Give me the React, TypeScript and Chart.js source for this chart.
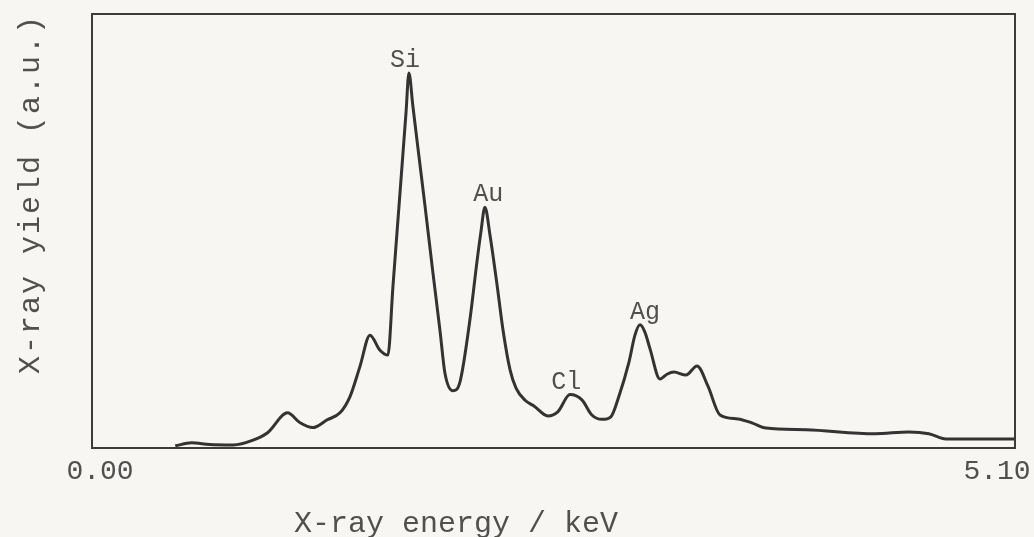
import React, { useEffect, useRef } from "react";
import { Chart, registerables } from "chart.js";

Chart.register(...registerables);

// X-ray energy (keV)
const energy = [
  0.46, 0.55, 0.65, 0.78, 0.89, 0.97, 1.08, 1.15, 1.22, 1.3, 1.37, 1.425, 1.48,
  1.536, 1.59, 1.635, 1.663, 1.685, 1.713, 1.735, 1.751, 1.773, 1.801, 1.84,
  1.884, 1.923, 1.950, 1.994, 2.033, 2.088, 2.127, 2.149, 2.171, 2.199, 2.238,
  2.271, 2.31, 2.343, 2.393, 2.442, 2.519, 2.575, 2.641, 2.707, 2.762, 2.818,
  2.867, 2.912, 2.967, 3.0, 3.028, 3.055, 3.083, 3.138, 3.177, 3.215, 3.282,
  3.343, 3.403, 3.47, 3.569, 3.646, 3.724, 3.945, 4.326, 4.514, 4.624, 4.718, 5.1,
];
// X-ray yield (a.u.)
const yieldValues = [
  0.5, 1.2, 0.8, 0.7, 1.8, 3.5, 8.1, 5.8, 4.7, 6.5, 8.1, 11.8, 18.7, 26.0, 22.6,
  21.4, 37.3, 49.5, 65.0, 77.2, 86.4, 78.8, 69.1, 55.8, 40.3, 27.0, 17.3, 13.2,
  15.2, 29.5, 42.9, 49.8, 55.5, 49.1, 37.6, 27.2, 18.0, 13.8, 11.0, 9.7, 7.4,
  8.4, 12.3, 11.1, 7.6, 6.6, 7.2, 12.0, 19.8, 26.0, 28.4, 26.7, 22.9, 15.9,
  17.0, 17.5, 16.8, 18.9, 14.3, 7.6, 6.7, 5.8, 4.6, 4.2, 3.3, 3.7, 3.3, 2.1, 2.1,
];
// peak labels
const peakNames = ["Si", "Au", "Cl", "Ag"];
const peakEnergy = [1.73, 2.19, 2.62, 3.055];
const peakYield = [86.4, 55.5, 12.3, 28.4];
// axis tick labels
const xTickValues = [0, 5.1];
const xTitle = "X-ray energy / keV";
const yTitle = "X-ray yield (a.u.)";

const INK = "#505050";
const FONT = "'Liberation Mono', 'Courier New', monospace";

const overlay = {
  id: "overlay",
  beforeDraw(chart: any) {
    const { ctx, width, height } = chart;
    ctx.save();
    ctx.fillStyle = "#f7f6f3";
    ctx.fillRect(0, 0, width, height);
    ctx.restore();
  },
  afterDraw(chart: any) {
    const { ctx, chartArea, scales } = chart;
    const { left, right, top, bottom } = chartArea;
    const xs = scales.x;
    const ys = scales.y;
    ctx.save();
    ctx.strokeStyle = "#3c3c3c";
    ctx.lineWidth = 2;
    ctx.strokeRect(left, top, right - left, bottom - top);

    ctx.fillStyle = INK;
    ctx.textBaseline = "alphabetic";
    // tick labels
    ctx.font = `28px ${FONT}`;
    xTickValues.forEach((v, i) => {
      const px = xs.getPixelForValue(v);
      ctx.textAlign = "center";
      const shift = i === 0 ? 8 : -18;
      ctx.fillText(v.toFixed(2), px + shift, bottom + 31);
    });
    // x title
    ctx.font = `30px ${FONT}`;
    ctx.textAlign = "center";
    ctx.fillText(xTitle, left + 364, bottom + 84);
    // y title
    ctx.save();
    ctx.translate(left - 53, top + 180);
    ctx.rotate(-Math.PI / 2);
    ctx.textAlign = "center";
    (ctx as any).letterSpacing = "2px";
    ctx.fillText(yTitle, 0, 0);
    ctx.restore();
    // peak labels
    ctx.font = `25px ${FONT}`;
    ctx.textAlign = "center";
    peakNames.forEach((name, i) => {
      const px = xs.getPixelForValue(peakEnergy[i]);
      const py = ys.getPixelForValue(peakYield[i]);
      ctx.fillText(name, px, py - 6);
    });
    ctx.restore();
  },
};

export default function App() {
  const ref = useRef<HTMLCanvasElement | null>(null);
  useEffect(() => {
    if (!ref.current) return;
    const chart = new Chart(ref.current, {
      type: "line",
      data: {
        datasets: [
          {
            data: energy.map((e, i) => ({ x: e, y: yieldValues[i] })),
            borderColor: "#333333",
            borderWidth: 3,
            pointRadius: 0,
            cubicInterpolationMode: "monotone",
            fill: false,
          },
        ],
      },
      options: {
        animation: false,
        responsive: false,
        layout: { padding: { left: 92, right: 19, top: 14, bottom: 89 } },
        scales: {
          x: { type: "linear", min: 0, max: 5.1, display: false },
          y: { min: 0, max: 100, display: false },
        },
        plugins: { legend: { display: false }, tooltip: { enabled: false } },
      },
      plugins: [overlay],
    });
    return () => chart.destroy();
  }, []);
  return (
    <div style={{ position: "absolute", left: 0, top: 0, width: 1034, height: 537 }}>
      <canvas ref={ref} width={1034} height={537} style={{ display: "block" }} />
    </div>
  );
}
